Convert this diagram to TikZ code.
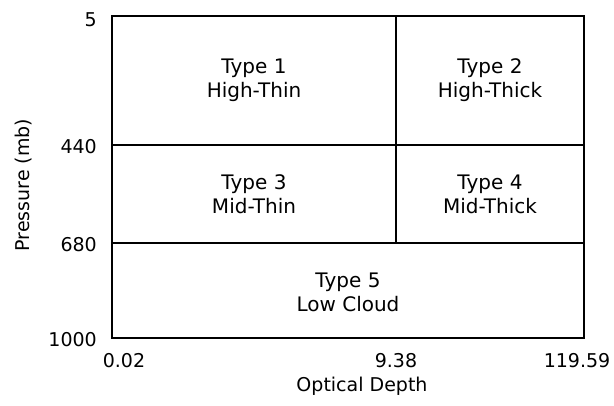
\documentclass[tikz,border=0pt]{standalone}
\usepackage{fontspec}
\setmainfont{DejaVu Sans}
\begin{document}
\begin{tikzpicture}[x=1pt,y=-1pt,
  frame/.style={line width=2pt,line join=miter},
  divider/.style={line width=1.6pt},
  celltext/.style={font=\fontsize{20}{24}\selectfont,align=center,inner sep=0pt},
  ticktext/.style={font=\fontsize{19}{22}\selectfont,inner sep=0pt},
  axistext/.style={font=\fontsize{19}{22}\selectfont,inner sep=0pt}]
\useasboundingbox (0,0) rectangle (614,405);
% frame corners
\coordinate (tl) at (112,16);
\coordinate (br) at (584,338);
\coordinate (l440) at (112,145);
\coordinate (r440) at (584,145);
\coordinate (l680) at (112,243);
\coordinate (r680) at (584,243);
\coordinate (vtop) at (396,16);
\coordinate (vbot) at (396,243);
\draw[frame] (tl) rectangle (br);
\draw[divider] (l440) -- (r440);
\draw[divider] (l680) -- (r680);
\draw[divider] (vtop) -- (vbot);
% cell texts
\node[celltext] (t1) at (254,80) {Type 1\\High-Thin};
\node[celltext] (t2) at (490,80) {Type 2\\High-Thick};
\node[celltext] (t3) at (254,194) {Type 3\\Mid-Thin};
\node[celltext] (t4) at (490,194) {Type 4\\Mid-Thick};
\node[celltext] (t5) at (348,292) {Type 5\\Low Cloud};
% y ticks
\node[ticktext,anchor=east] (y5) at (97,20) {5};
\node[ticktext,anchor=east] (y440) at (97,147) {440};
\node[ticktext,anchor=east] (y680) at (97,245) {680};
\node[ticktext,anchor=east] (y1000) at (97,340) {1000};
% x ticks
\node[ticktext] (x1) at (124,361) {0.02};
\node[ticktext] (x2) at (396,361) {9.38};
\node[ticktext] (x3) at (577,361) {119.59};
% axis labels
\node[axistext] (xl) at (362,386) {Optical Depth};
\node[axistext,rotate=90] (yl) at (24,185) {Pressure (mb)};
\end{tikzpicture}
\end{document}
